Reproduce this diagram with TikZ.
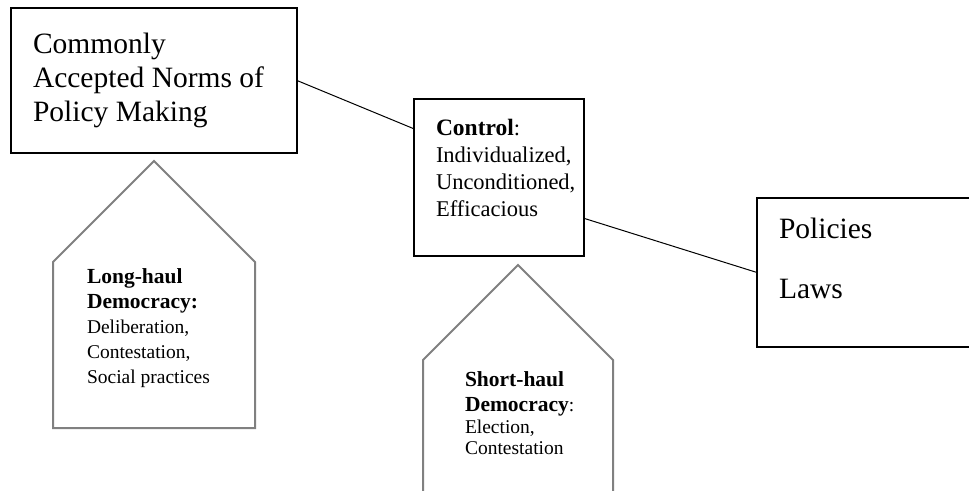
\documentclass[tikz,border=0pt]{standalone}
\usepackage{fontspec}
\setmainfont{Liberation Serif}
\usetikzlibrary{calc}
\definecolor{housegray}{HTML}{808080}
\tikzset{
  boxnode/.style={draw=black, line width=2.6pt, fill=none, inner sep=0pt, outer sep=0pt},
  housepath/.style={draw=housegray, line width=2pt, line join=miter},
  txt/.style={inner sep=0pt, outer sep=0pt, anchor=base west},
  link/.style={draw=black, line width=1pt}
}
\newcommand{\bigtxt}{\fontsize{29.5}{34}\selectfont}
\newcommand{\midtxt}{\fontsize{22.5}{27}\selectfont}
\newcommand{\midbold}{\fontsize{23.5}{27}\selectfont\bfseries}
\newcommand{\smalltxt}{\fontsize{19.5}{25}\selectfont}
\newcommand{\smallbold}{\fontsize{21.5}{25}\selectfont\bfseries}
\begin{document}
\begin{tikzpicture}[x=1pt,y=-1pt]
\useasboundingbox (0,0) rectangle (969,490);
\clip (0,0) rectangle (969,490);
% boxes
\node[boxnode, minimum width=286pt, minimum height=145pt] (b1) at (154,80.5) {};
\node[boxnode, minimum width=170pt, minimum height=157pt] (b2) at (499,177.5) {};
\node[boxnode, minimum width=222pt, minimum height=149pt] (b3) at (868,272.5) {};
% box texts
\node[txt] (t1) at (33,53) {\bigtxt\vtop{\hbox{Commonly}\hbox{Accepted Norms of}\hbox{Policy Making}}};
\node[txt] (t2) at (436,135) {\midtxt\vtop{\hbox{{\midbold Control}:}\hbox{Individualized,}\hbox{Unconditioned,}\hbox{Efficacious}}};
\node[txt] (t3a) at (779,238) {\bigtxt Policies};
\node[txt] (t3b) at (779,298) {\bigtxt Laws};
% connectors
\draw[link] (b1.east) -- ($(b2.north west)!0.19!(b2.south west)$);
\draw[link] ($(b2.north east)!0.76!(b2.south east)$) -- (b3.west);
% house 1
\coordinate (h1bl) at (53,428);
\coordinate (h1br) at (255,428);
\coordinate (h1el) at (53,262);
\coordinate (h1er) at (255,262);
\coordinate (h1top) at (154,161);
\draw[housepath] (h1bl) -- (h1el) -- (h1top) -- (h1er) -- (h1br) -- cycle;
\node[txt] (h1t) at (87,283) {\smalltxt\vtop{\hbox{\smallbold Long-haul}\hbox{\smallbold Democracy:}\hbox{Deliberation,}\hbox{Contestation,}\hbox{Social practices}}};
% house 2
\coordinate (h2bl) at (423,495);
\coordinate (h2br) at (613,495);
\coordinate (h2el) at (423,360);
\coordinate (h2er) at (613,360);
\coordinate (h2top) at (518,265);
\draw[housepath] (h2bl) -- (h2el) -- (h2top) -- (h2er) -- (h2br);
\node[txt] (h2t) at (465,386) {\smalltxt\vtop{\baselineskip=25pt\hbox{\smallbold Short-haul}\hbox{{\smallbold Democracy}:}\baselineskip=22pt\hbox{Election,}\baselineskip=21pt\hbox{Contestation}}};
\end{tikzpicture}
\end{document}
